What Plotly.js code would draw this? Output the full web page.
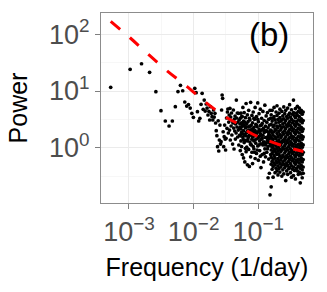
<!DOCTYPE html>
<html>
<head>
<meta charset="utf-8">
<script src="https://cdn.plot.ly/plotly-3.0.1.min.js"></script>
<style>html,body{margin:0;padding:0;background:#fff;}#chart{width:327px;height:292px;}</style>
</head>
<body>
<div id="chart"></div>
<script>
// Periodogram values, stored as log10(frequency) and log10(power)
const log10Freq = [
-3.283,-2.982,-2.806,-2.681,-2.584,-2.505,-2.438,-2.380,-2.329,-2.283,
-2.242,-2.204,-2.169,-2.137,-2.107,-2.079,-2.053,-2.028,-2.004,-1.982,
-1.961,-1.941,-1.921,-1.903,-1.885,-1.868,-1.852,-1.836,-1.821,-1.806,
-1.792,-1.778,-1.764,-1.752,-1.739,-1.727,-1.715,-1.703,-1.692,-1.681,
-1.670,-1.660,-1.650,-1.640,-1.630,-1.620,-1.611,-1.602,-1.593,-1.584,
-1.575,-1.567,-1.559,-1.551,-1.543,-1.535,-1.527,-1.520,-1.512,-1.505,
-1.498,-1.491,-1.484,-1.477,-1.470,-1.463,-1.457,-1.450,-1.444,-1.438,
-1.432,-1.426,-1.420,-1.414,-1.408,-1.402,-1.397,-1.391,-1.385,-1.380,
-1.375,-1.369,-1.364,-1.359,-1.354,-1.349,-1.343,-1.339,-1.334,-1.329,
-1.324,-1.319,-1.315,-1.310,-1.305,-1.301,-1.296,-1.292,-1.287,-1.283
];
const log10Power = [
1.065,1.383,1.481,1.330,0.988,0.653,0.471,0.383,0.471,0.723,
0.990,1.100,1.005,0.806,0.735,0.762,0.700,0.607,0.536,1.048,
0.970,0.635,0.471,0.519,0.765,0.959,0.677,0.841,0.647,0.771,
0.700,0.577,0.642,0.489,0.723,0.607,0.547,0.489,0.665,0.541,
0.607,0.436,0.300,0.212,0.018,0.476,-0.058,0.136,0.400,0.065,
0.106,0.665,0.930,0.871,0.282,0.018,0.194,0.400,0.153,-0.040,
0.166,0.524,0.342,0.630,0.683,0.260,0.453,0.577,0.312,0.695,
0.136,0.541,0.383,0.612,0.224,0.471,0.065,0.436,0.665,0.347,
-0.023,0.506,0.295,0.559,0.153,0.418,0.260,0.841,0.524,0.365,
0.612,0.189,0.453,0.312,0.607,0.048,0.489,0.347,0.224,0.418
];
// Dense part of the periodogram: frequencies (log10) and the powers (log10) seen at each
const bandLog10Freq = [
-1.278,-1.268,-1.258,-1.248,-1.238,-1.228,-1.218,-1.208,-1.198,-1.188,
-1.178,-1.168,-1.158,-1.148,-1.138,-1.128,-1.118,-1.108,-1.098,-1.088,
-1.078,-1.068,-1.058,-1.048,-1.038,-1.028,-1.018,-1.008,-0.998,-0.988,
-0.978,-0.968,-0.958,-0.948,-0.938,-0.928,-0.918,-0.908,-0.898,-0.888,
-0.878,-0.868,-0.858,-0.848,-0.838,-0.828,-0.818,-0.808,
-0.800,-0.785,-0.770,-0.755,-0.740,-0.725,-0.710,-0.695,-0.680,-0.665,
-0.650,-0.635,-0.620,-0.605,-0.590,-0.575,-0.560,-0.545,-0.530,-0.515,
-0.500,-0.485,-0.470,-0.455,-0.440,-0.425,-0.410,-0.395,-0.380,-0.365,
-0.350,-0.335,-0.320,-0.305
];
const bandLog10Power = [
[0.52,0.21,-0.05,0.36],[0.33,0.61,0.12],[0.44,0.02,0.27,0.55],[-0.12,0.55,0.38,0.25],[0.18,0.71,0.41],
[0.47,-0.18,0.30,0.14],[0.09,0.62,0.39,0.22],[0.24,-0.25,0.45],[0.53,0.13,0.35,-0.01],[0.78,0.21,-0.07,0.37],
[0.42,0.01,0.27],[0.29,-0.30,0.58,0.12],[0.16,0.46,0.31],[0.37,-0.03,0.66,0.20],[0.22,-0.33,0.52],
[0.49,0.10,0.31,0.38],[0.80,0.26,-0.16,0.06],[0.05,0.40,0.23],[0.33,-0.08,0.57,0.15],[0.19,0.44,-0.28,0.31],
[0.63,0.27,0.02],[0.12,0.36,-0.02,0.52],[0.50,0.21,-0.08],[-0.19,0.30,0.71,0.14],[0.08,0.41,0.25],
[0.25,-0.10,0.55,0.40],[0.16,0.37,-0.04],[0.79,0.03,0.28,0.50],[0.46,-0.22,0.18],[0.20,0.33,0.60,0.05],
[-0.05,0.12,0.30],[0.39,0.25,0.68,-0.15],[0.07,-0.35,0.22],[0.31,0.52,0.15,0.40],[-0.12,0.43,0.17],
[0.22,0.05,0.64,0.33],[0.34,-0.25,0.10],[0.10,0.48,0.27,-0.10],[0.75,-0.02,0.29],[0.18,0.38,-0.16,0.05],
[0.56,0.08,0.30],[0.29,-0.08,0.45,0.18],[0.13,0.62,-0.02],[-0.53,0.35,0.02,0.20],[0.24,0.50,-0.20,0.10],
[0.16,0.40,-0.45,0.28],[0.07,0.66,-0.83,0.22],[0.31,-0.12,0.52,0.04],
[0.58,0.41,0.30,0.18,0.07,-0.04,-0.17,-0.29,-0.69],
[0.66,0.47,0.26,0.12,0.01,-0.10,-0.24,-0.38],
[0.52,0.37,0.22,0.15,0.04,-0.07,-0.20,-0.33,-0.52],
[0.71,0.55,0.40,0.28,0.09,-0.02,-0.14,-0.27],
[0.49,0.33,0.19,0.06,-0.05,-0.18,-0.30,-0.44],
[0.63,0.44,0.31,0.16,0.03,-0.09,-0.23,-0.36],
[0.74,0.57,0.38,0.25,0.11,-0.01,-0.12,-0.26,-0.41],
[0.50,0.35,0.20,0.08,-0.06,-0.19,-0.32,-0.48],
[0.61,0.45,0.29,0.14,0.02,-0.11,-0.24,-0.37],
[0.68,0.53,0.39,0.23,0.10,-0.03,-0.15,-0.28,-0.43],
[0.47,0.32,0.18,0.05,-0.07,-0.21,-0.34],
[0.64,0.49,0.36,0.21,0.09,-0.04,-0.17,-0.30,-0.50],
[0.56,0.42,0.27,0.13,0.00,-0.13,-0.25,-0.39],
[0.72,0.51,0.37,0.24,0.11,-0.02,-0.16,-0.29,-0.46],
[0.60,0.44,0.30,0.16,0.04,-0.09,-0.22,-0.35],
[0.66,0.48,0.34,0.19,0.07,-0.06,-0.19,-0.32,-0.58],
[0.55,0.40,0.26,0.12,-0.01,-0.14,-0.27,-0.41],
[0.70,0.52,0.38,0.23,0.09,-0.04,-0.17,-0.31,-0.47],
[0.58,0.43,0.29,0.15,0.02,-0.11,-0.24,-0.37],
[0.76,0.61,0.46,0.32,0.18,0.05,-0.08,-0.21,-0.35],
[0.54,0.39,0.25,0.11,-0.02,-0.15,-0.28,-0.44],
[0.67,0.50,0.36,0.21,0.08,-0.05,-0.18,-0.32,-0.52],
[0.59,0.44,0.30,0.16,0.03,-0.10,-0.23,-0.38],
[0.84,0.62,0.47,0.33,0.19,0.06,-0.07,-0.20,-0.34,-0.49],
[0.56,0.41,0.27,0.13,0.00,-0.13,-0.26,-0.40],
[0.69,0.53,0.38,0.24,0.10,-0.03,-0.16,-0.29,-0.55],
[0.61,0.46,0.31,0.17,0.04,-0.09,-0.22,-0.36],
[0.73,0.57,0.42,0.28,0.14,0.01,-0.12,-0.25,-0.41],
[0.64,0.49,0.34,0.20,0.06,-0.07,-0.20,-0.33,-0.47],
[0.70,0.55,0.40,0.26,0.12,-0.01,-0.14,-0.27,-0.43],
[0.62,0.47,0.32,0.18,0.04,-0.09,-0.22,-0.36,-0.62],
[0.66,0.51,0.36,0.22,0.08,-0.05,-0.18,-0.31,-0.46],
[0.59,0.44,0.29,0.15,0.01,-0.12,-0.25,-0.39,-0.53],
[0.63,0.48,0.33,0.19,0.05,-0.08,-0.21,-0.34,-0.45]
];
// Fitted power-law curve (red dashed)
const fitLog10Freq  = [-3.283,-2.980,-2.695,-2.401,-2.102,-1.808,-1.514,-1.333,-1.153,-0.983,-0.807,-0.611,-0.457,-0.301];
const fitLog10Power = [ 2.229, 1.935, 1.640, 1.347, 1.079, 0.794, 0.547, 0.430, 0.282, 0.183, 0.106, 0.030,-0.023,-0.067];

const xTickVals = [0.001, 0.01, 0.1];
const xTickText = ['10<sup>\u22123</sup>', '10<sup>\u22122</sup>', '10<sup>\u22121</sup>'];
const yTickVals = [1, 10, 100];
const yTickText = ['10<sup>0</sup>', '10<sup>1</sup>', '10<sup>2</sup>'];
const xMinorVals = [0.000316, 0.00316, 0.0316, 0.316];
const yMinorVals = [0.316, 3.16, 31.6];

const px = [], py = [];
log10Freq.forEach((lf, i) => { px.push(Math.pow(10, lf)); py.push(Math.pow(10, log10Power[i])); });
bandLog10Freq.forEach((lf, i) => {
  bandLog10Power[i].forEach(lp => { px.push(Math.pow(10, lf)); py.push(Math.pow(10, lp)); });
});
const fx = fitLog10Freq.map(v => Math.pow(10, v));
const fy = fitLog10Power.map(v => Math.pow(10, v));

const FONT = 'Liberation Sans, Arial, Helvetica, sans-serif';
const axisCommon = {
  type: 'log', tickmode: 'array', ticks: 'outside', ticklen: 5, tickwidth: 1, tickcolor: '#7f7f7f',
  tickfont: {family: FONT, size: 27, color: '#4D4D4D'},
  showgrid: true, gridcolor: '#EBEBEB', gridwidth: 1,
  showline: true, mirror: true, linecolor: '#8c8c8c', linewidth: 1,
  zeroline: false, automargin: false
};

const data = [
  {type: 'scatter', mode: 'markers', x: px, y: py,
   marker: {color: '#000', size: 3.7, line: {width: 0}}, hoverinfo: 'skip'},
  {type: 'scatter', mode: 'lines', x: fx, y: fy,
   line: {color: '#FF0000', width: 3, dash: '12px,13px', shape: 'spline', smoothing: 1}, hoverinfo: 'skip'}
];

const layout = {
  width: 327, height: 292,
  margin: {l: 101, r: 14, t: 13, b: 89, pad: 0},
  paper_bgcolor: '#ffffff', plot_bgcolor: '#ffffff',
  showlegend: false,
  font: {family: FONT, color: '#000'},
  xaxis: Object.assign({}, axisCommon, {
    range: [-3.433, -0.153], tickvals: xTickVals, ticktext: xTickText,
    minor: {tickmode: 'array', tickvals: xMinorVals, showgrid: true, gridcolor: '#F2F2F2', gridwidth: 0.6, ticks: ''},
    title: {text: 'Frequency (1/day)', font: {family: FONT, size: 25, color: '#000'}, standoff: 12}
  }),
  yaxis: Object.assign({}, axisCommon, {
    range: [-0.975, 2.376], tickvals: yTickVals, ticktext: yTickText,
    minor: {tickmode: 'array', tickvals: yMinorVals, showgrid: true, gridcolor: '#F2F2F2', gridwidth: 0.6, ticks: ''},
    title: {text: 'Power', font: {family: FONT, size: 25, color: '#000'}, standoff: 14}
  }),
  annotations: [{
    text: '(b)', xref: 'paper', yref: 'paper', x: 0.792, y: 0.885,
    xanchor: 'center', yanchor: 'middle', showarrow: false,
    font: {family: FONT, size: 33, color: '#000'}
  }]
};

Plotly.newPlot('chart', data, layout, {staticPlot: true, displayModeBar: false});
</script>
</body>
</html>
